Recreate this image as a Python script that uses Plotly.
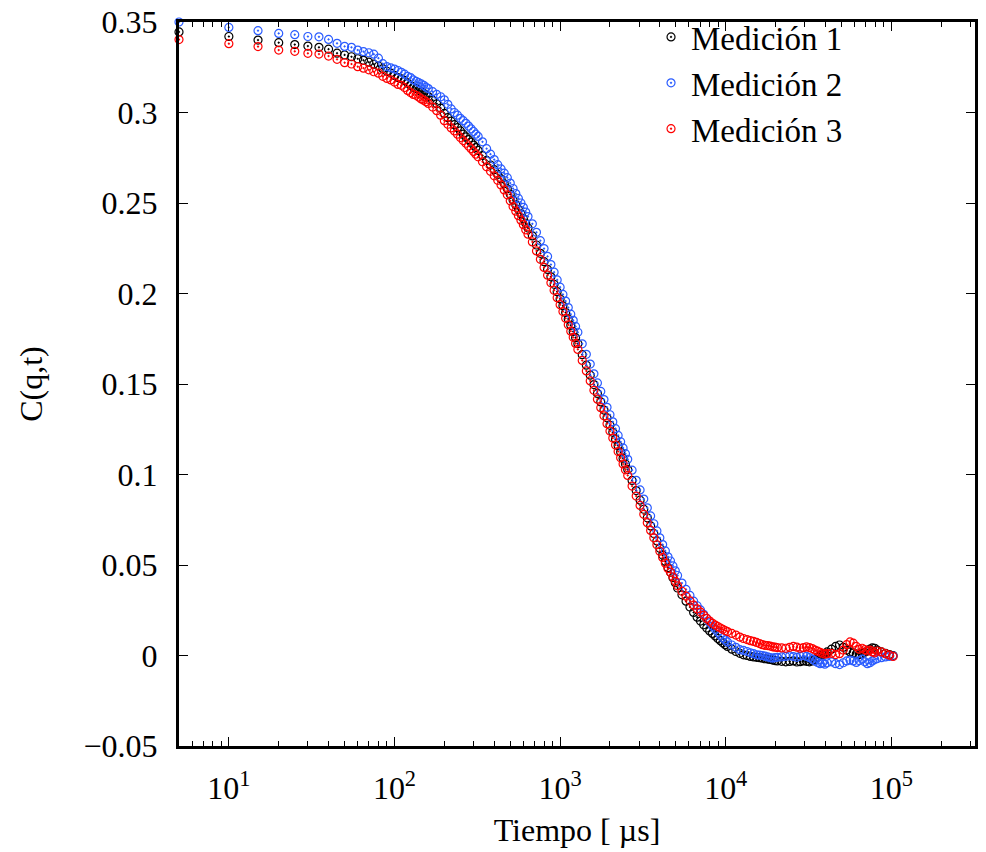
import plotly.graph_objects as go

# Lag times (microseconds) of the correlator channels
tiempo = [
    5, 10, 15, 20, 25, 30, 35, 40, 45, 50, 55, 60, 65, 70, 75, 80,
    85, 90, 95, 100, 105, 110, 115, 120, 125, 130, 135, 140, 145, 150, 155, 160,
    170, 180, 190, 200, 210, 220, 230, 240, 250, 260, 270, 280, 290, 300, 310, 320,
    340, 360, 380, 400, 420, 440, 460, 480, 500, 520, 540, 560, 580, 600, 620, 640,
    680, 720, 760, 800, 840, 880, 920, 960, 1000, 1040, 1080, 1120, 1160, 1200, 1240, 1280,
    1360, 1440, 1520, 1600, 1680, 1760, 1840, 1920, 2000, 2080, 2160, 2240, 2320, 2400, 2480, 2560,
    2720, 2880, 3040, 3200, 3360, 3520, 3680, 3840, 4000, 4160, 4320, 4480, 4640, 4800, 4960, 5120,
    5440, 5760, 6080, 6400, 6720, 7040, 7360, 7680, 8000, 8320, 8640, 8960, 9280, 9600, 9920, 10240,
    10880, 11520, 12160, 12800, 13440, 14080, 14720, 15360, 16000, 16640, 17280, 17920, 18560, 19200, 19840, 20480,
    21760, 23040, 24320, 25600, 26880, 28160, 29440, 30720, 32000, 33280, 34560, 35840, 37120, 38400, 39680, 40960,
    43520, 46080, 48640, 51200, 53760, 56320, 58880, 61440, 64000, 66560, 69120, 71680, 74240, 76800, 79360, 81920,
    87040, 92160, 97280, 102400,
]

medicion_1 = [
    .3445, .3420, .3400, .3386, .3375, .3367, .3360, .3350, .3328, .3318, .3308, .3297, .3288, .3278, .3267, .3257,
    .3242, .3228, .3218, .3205, .3193, .3186, .3177, .3163, .3150, .3140, .3133, .3124, .3114, .3106, .3098, .3088,
    .3068, .3048, .3024, .2995, .2972, .2952, .2933, .2916, .2898, .2880, .2865, .2850, .2836, .2820, .2806, .2790,
    .2762, .2735, .2710, .2684, .2658, .2633, .2606, .2579, .2548, .2516, .2490, .2465, .2440, .2415, .2388, .2362,
    .2318, .2268, .2222, .2176, .2133, .2092, .2051, .2010, .1970, .1932, .1895, .1859, .1824, .1790, .1756, .1723,
    .1662, .1604, .1549, .1497, .1448, .1401, .1356, .1313, .1272, .1233, .1195, .1159, .1124, .1090, .1058, .1027,
    .0967, .0911, .0858, .0808, .0761, .0716, .0674, .0633, .0592, .0555, .0520, .0486, .0460, .0430, .0402, .0373,
    .0335, .0300, .0268, .0238, .0212, .0190, .0170, .0152, .0136, .0122, .0108, .0094, .0082, .0070, .0060, .0050,
    .0035, .0022, .0012, .0004, .0000, -.0005, -.0008, -.0010, -.0012, -.0015, -.0018, -.0020, -.0022, -.0025, -.0028, -.0030,
    -.0032, -.0035, -.0033, -.0030, -.0036, -.0034, -.0030, -.0032, -.0035, -.0030, -.0022, -.0010, .0000, .0005, .0010, .0020,
    .0035, .0050, .0058, .0045, .0030, .0020, .0015, .0008, .0005, .0010, .0018, .0025, .0035, .0042, .0040, .0030,
    .0020, .0012, .0005, .0000,
]

medicion_2 = [
    .3500, .3470, .3452, .3437, .3430, .3420, .3418, .3404, .3382, .3365, .3360, .3345, .3336, .3330, .3322, .3300,
    .3270, .3253, .3246, .3240, .3232, .3222, .3212, .3200, .3193, .3180, .3172, .3165, .3158, .3150, .3140, .3132,
    .3115, .3100, .3087, .3070, .3045, .3020, .3000, .2985, .2968, .2955, .2940, .2925, .2910, .2895, .2880, .2868,
    .2838, .2800, .2770, .2740, .2712, .2688, .2665, .2640, .2610, .2580, .2552, .2525, .2500, .2476, .2450, .2425,
    .2385, .2338, .2292, .2248, .2205, .2160, .2118, .2075, .2035, .1995, .1958, .1922, .1886, .1852, .1818, .1786,
    .1722, .1664, .1610, .1556, .1506, .1459, .1414, .1371, .1330, .1291, .1253, .1216, .1181, .1147, .1115, .1084,
    .1024, .0968, .0915, .0864, .0816, .0771, .0728, .0688, .0650, .0613, .0578, .0545, .0522, .0495, .0468, .0442,
    .0400, .0365, .0332, .0300, .0275, .0252, .0228, .0205, .0182, .0162, .0145, .0128, .0112, .0098, .0086, .0075,
    .0058, .0045, .0032, .0028, .0022, .0015, .0010, .0004, .0002, .0000, -.0004, -.0008, -.0012, -.0015, -.0012, -.0010,
    -.0008, -.0005, -.0002, -.0006, -.0010, -.0004, .0000, -.0005, -.0012, -.0020, -.0030, -.0038, -.0045, -.0042, -.0048, -.0040,
    -.0035, -.0045, -.0050, -.0040, -.0030, -.0025, -.0030, -.0038, -.0028, -.0020, -.0035, -.0045, -.0040, -.0030, -.0022, -.0018,
    -.0012, -.0008, -.0005, -.0003,
]

medicion_3 = [
    .3403, .3380, .3364, .3345, .3338, .3327, .3323, .3312, .3294, .3275, .3268, .3253, .3245, .3236, .3225, .3217,
    .3200, .3188, .3180, .3168, .3155, .3150, .3138, .3122, .3110, .3100, .3095, .3085, .3075, .3068, .3060, .3050,
    .3030, .3010, .2985, .2955, .2935, .2915, .2898, .2880, .2862, .2845, .2830, .2815, .2800, .2785, .2770, .2755,
    .2728, .2700, .2675, .2650, .2625, .2600, .2572, .2545, .2512, .2480, .2455, .2430, .2405, .2380, .2352, .2328,
    .2285, .2235, .2189, .2144, .2101, .2059, .2018, .1977, .1938, .1900, .1863, .1827, .1792, .1758, .1724, .1691,
    .1630, .1572, .1517, .1465, .1416, .1369, .1324, .1281, .1240, .1201, .1163, .1127, .1092, .1058, .1026, .0995,
    .0936, .0881, .0829, .0780, .0734, .0691, .0650, .0612, .0576, .0542, .0510, .0480, .0460, .0435, .0410, .0385,
    .0355, .0328, .0302, .0278, .0258, .0240, .0222, .0205, .0190, .0178, .0168, .0160, .0152, .0145, .0138, .0132,
    .0122, .0113, .0102, .0094, .0088, .0082, .0078, .0072, .0066, .0060, .0056, .0055, .0052, .0048, .0046, .0044,
    .0042, .0040, .0045, .0050, .0046, .0040, .0043, .0048, .0044, .0038, .0030, .0024, .0018, .0012, .0008, .0010,
    .0012, .0005, .0010, .0030, .0060, .0075, .0068, .0050, .0035, .0040, .0032, .0025, .0030, .0020, .0015, .0025,
    .0020, .0010, .0002, -.0005,
]

nombres = ["Medición 1", "Medición 2", "Medición 3"]
colores = ["#000000", "#2a5cff", "#ff0000"]
series = [medicion_1, medicion_2, medicion_3]

x_tickvals = [10, 100, 1000, 10000, 100000]
x_ticktext = ["10<sup>1</sup>", "10<sup>2</sup>", "10<sup>3</sup>", "10<sup>4</sup>", "10<sup>5</sup>"]
y_tickvals = [-0.05, 0, 0.05, 0.1, 0.15, 0.2, 0.25, 0.3, 0.35]
y_ticktext = ["\u22120.05", "0", "0.05", "0.1", "0.15", "0.2", "0.25", "0.3", "0.35"]

FONT = "Liberation Serif, Times New Roman, serif"

fig = go.Figure()
for nombre, color, valores in zip(nombres, colores, series):
    fig.add_trace(go.Scatter(
        x=tiempo, y=valores, mode="markers", name=nombre,
        cliponaxis=False,
        marker=dict(symbol="circle-open-dot", size=8, color=color,
                    line=dict(width=1.2, color=color)),
    ))

minor_x = [m * 10 ** k for k in range(0, 6) for m in range(2, 10)]

fig.update_layout(
    width=986, height=852,
    margin=dict(l=179, r=11, t=22, b=106, autoexpand=False),
    paper_bgcolor="white", plot_bgcolor="white",
    font=dict(family=FONT, size=32, color="black"),
    showlegend=True,
    legend=dict(x=0.593, y=1.018, xanchor="left", yanchor="top",
                bgcolor="rgba(0,0,0,0)", font=dict(size=33, family=FONT),
                itemwidth=30),
    xaxis=dict(
        type="log", range=[0.69897, 5.505], automargin=False,
        tickmode="array", tickvals=x_tickvals, ticktext=x_ticktext,
        ticks="inside", ticklen=9, tickwidth=1, tickcolor="black",
        showline=True, linewidth=3, linecolor="black", mirror="allticks",
        showgrid=False, zeroline=False,
        minor=dict(tickmode="array", tickvals=minor_x, ticks="inside",
                   ticklen=5, tickwidth=1, tickcolor="black", showgrid=False),
        ticklabelstandoff=12,
        title=dict(text="Tiempo [ µs]", standoff=14, font=dict(size=32, family=FONT)),
    ),
    yaxis=dict(
        range=[-0.05, 0.35], automargin=False,
        tickmode="array", tickvals=y_tickvals, ticktext=y_ticktext,
        ticks="inside", ticklen=9, tickwidth=1, tickcolor="black",
        showline=True, linewidth=3, linecolor="black", mirror="allticks",
        showgrid=False, zeroline=False,
        ticklabelstandoff=12,
        title=dict(text="C(q,t)", standoff=32, font=dict(size=32, family=FONT)),
    ),
)

fig.write_html("out.html")
